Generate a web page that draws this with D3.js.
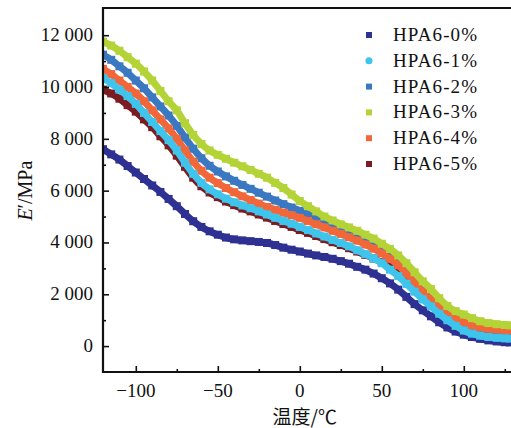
<!DOCTYPE html>
<html>
<head>
<meta charset="utf-8">
<script src="https://cdn.jsdelivr.net/npm/d3@7"></script>
<style>
  body { margin: 0; background: #fff; overflow: hidden; }
  svg { display: block; }
  text { font-family: "Liberation Serif", "Times New Roman", serif; fill: #111; }
</style>
</head>
<body>
<div id="chart"></div>
<script>
const temps = [-120, -115, -110, -105, -100, -95, -90, -85, -80, -75, -70, -65, -60, -55, -50, -45, -40, -35, -30, -25,
  -20, -15, -10, -5, 0, 5, 10, 15, 20, 25, 30, 35, 40, 45, 50, 55, 60, 65, 70, 75,
  80, 85, 90, 95, 100, 105, 110, 115, 120, 125, 128];

const hpa0 = [7600, 7400, 7200, 6950, 6700, 6450, 6200, 5950, 5680, 5400, 5100, 4820, 4600, 4430, 4300, 4190, 4120, 4080, 4050, 4020,
  3980, 3900, 3800, 3720, 3650, 3570, 3500, 3440, 3370, 3280, 3180, 3060, 2950, 2800, 2620, 2420, 2180, 1900, 1620, 1380,
  1150, 920, 720, 560, 440, 350, 280, 220, 180, 150, 140];
const hpa1 = [10350, 10150, 9900, 9650, 9350, 9000, 8650, 8300, 7950, 7550, 7080, 6650, 6300, 6050, 5860, 5690, 5550, 5430, 5320, 5200,
  5080, 4950, 4830, 4720, 4600, 4480, 4350, 4230, 4100, 3980, 3850, 3700, 3550, 3380, 3200, 2950, 2700, 2400, 2100, 1800,
  1530, 1250, 1000, 780, 600, 480, 400, 350, 320, 300, 290];
const hpa2 = [11250, 11050, 10800, 10550, 10250, 9950, 9600, 9250, 8900, 8500, 8050, 7620, 7250, 6960, 6740, 6550, 6380, 6220, 6070, 5920,
  5770, 5620, 5480, 5350, 5220, 5080, 4940, 4800, 4670, 4540, 4400, 4250, 4080, 3900, 3690, 3450, 3180, 2850, 2480, 2120,
  1800, 1500, 1240, 1030, 880, 760, 690, 650, 620, 600, 590];
const hpa3 = [11750, 11600, 11400, 11150, 10900, 10600, 10250, 9850, 9450, 9100, 8600, 8150, 7800, 7550, 7380, 7230, 7080, 6940, 6800, 6650,
  6500, 6300, 6100, 5850, 5600, 5400, 5200, 5000, 4850, 4700, 4580, 4450, 4300, 4150, 3950, 3750, 3500, 3200, 2850, 2500,
  2200, 1850, 1550, 1350, 1220, 1080, 960, 890, 845, 815, 800];
const hpa4 = [10700, 10500, 10250, 10000, 9750, 9450, 9100, 8750, 8400, 8000, 7550, 7120, 6770, 6500, 6290, 6100, 5940, 5780, 5640, 5500,
  5370, 5260, 5150, 5050, 4950, 4830, 4700, 4580, 4450, 4330, 4200, 4070, 3920, 3760, 3580, 3370, 3120, 2800, 2450, 2100,
  1800, 1520, 1270, 1060, 920, 800, 720, 670, 640, 620, 610];
const hpa5 = [9900, 9750, 9550, 9300, 9050, 8750, 8450, 8100, 7750, 7350, 6920, 6500, 6170, 5930, 5750, 5580, 5440, 5310, 5200, 5080,
  4960, 4830, 4710, 4600, 4480, 4370, 4250, 4130, 4010, 3900, 3780, 3650, 3520, 3380, 3230, 3050, 2820, 2550, 2250, 1950,
  1700, 1450, 1220, 1020, 870, 760, 690, 640, 610, 600, 590];

const seriesNames = ["HPA6-0%", "HPA6-1%", "HPA6-2%", "HPA6-3%", "HPA6-4%", "HPA6-5%"];
const seriesValues = [hpa0, hpa1, hpa2, hpa3, hpa4, hpa5];
const seriesColors = ["#2e3192", "#3fc4ec", "#3a78c2", "#b4d336", "#f2673a", "#7b1c22"];
const drawOrder = [0, 5, 2, 4, 1, 3];

const yTicks = [0, 2000, 4000, 6000, 8000, 10000, 12000];
const yMinor = [1000, 3000, 5000, 7000, 9000, 11000];
const xTicks = [-100, -50, 0, 50, 100];
const xMinor = [-75, -25, 25, 75, 125];

const width = 511;
const height = 428;
const margin = { top: 8, right: -2, bottom: 56, left: 103 };
const innerWidth = width - margin.left - margin.right;
const innerHeight = height - margin.top - margin.bottom;

const svg = d3.select("#chart").append("svg")
  .attr("width", width)
  .attr("height", height);

const g = svg.append("g")
  .attr("transform", `translate(${margin.left}, ${margin.top})`);

const xScale = d3.scaleLinear().domain([-120, 130]).range([0, innerWidth]);
const yScale = d3.scaleLinear().domain([-1000, 13050]).range([innerHeight, 0]);

g.append("clipPath").attr("id", "plot")
  .append("rect")
  .attr("x", 1).attr("y", 0)
  .attr("width", innerWidth).attr("height", innerHeight - 1);

const marks = g.append("g").attr("clip-path", "url(#plot)");

const line = d3.line()
  .x(d => xScale(d[0]))
  .y(d => yScale(d[1]))
  .curve(d3.curveMonotoneX);

drawOrder.forEach(i => {
  const pts = temps.map((t, j) => [t, seriesValues[i][j]]);
  const s = marks.append("g");
  s.append("path")
    .datum(pts)
    .attr("fill", "none")
    .attr("stroke", seriesColors[i])
    .attr("stroke-width", 7)
    .attr("d", line);
  s.selectAll("rect")
    .data(pts)
    .join("rect")
    .attr("x", d => xScale(d[0]) - 4)
    .attr("y", d => yScale(d[1]) - 4)
    .attr("width", 8)
    .attr("height", 8)
    .attr("fill", seriesColors[i]);
});

// tick marks, pointing inward (axes drawn without their own labels)
const yMajorG = g.append("g").call(d3.axisLeft(yScale).tickValues(yTicks).tickSize(-6).tickFormat(""));
const yMinorG = g.append("g").call(d3.axisLeft(yScale).tickValues(yMinor).tickSize(-3).tickFormat(""));
const xMajorG = g.append("g").attr("transform", `translate(0, ${innerHeight})`)
  .call(d3.axisBottom(xScale).tickValues(xTicks).tickSize(-6).tickFormat(""));
const xMinorG = g.append("g").attr("transform", `translate(0, ${innerHeight})`)
  .call(d3.axisBottom(xScale).tickValues(xMinor).tickSize(-3).tickFormat(""));
[yMajorG, yMinorG, xMajorG, xMinorG].forEach(a => {
  a.select(".domain").remove();
  a.selectAll("text").remove();
  a.selectAll("line").attr("stroke", "#111").attr("stroke-width", 1.6);
});

// tick labels
g.append("g").selectAll("text")
  .data(yTicks)
  .join("text")
  .attr("x", -10)
  .attr("y", d => yScale(d) + 6)
  .attr("text-anchor", "end")
  .attr("font-size", 19)
  .text(d => d3.format(",")(d).replace(",", " "));

g.append("g").selectAll("text")
  .data(xTicks)
  .join("text")
  .attr("x", d => xScale(d))
  .attr("y", innerHeight + 25)
  .attr("text-anchor", "middle")
  .attr("font-size", 19)
  .text(d => d < 0 ? "\u2212" + Math.abs(d) : d);

// frame: left, bottom, top
g.append("path")
  .attr("d", `M${innerWidth + 2},0H0V${innerHeight}H${innerWidth + 2}`)
  .attr("fill", "none")
  .attr("stroke", "#111")
  .attr("stroke-width", 2.2);

// axis titles
g.append("text")
  .attr("x", xScale(3))
  .attr("y", innerHeight + 52)
  .attr("text-anchor", "middle")
  .attr("font-size", 19)
  .style("font-family", "'Noto Sans CJK SC', sans-serif")
  .text("温度/℃");

const yTitle = g.append("text")
  .attr("transform", `translate(${-71}, ${yScale(6000)}) rotate(-90)`)
  .attr("text-anchor", "middle")
  .attr("font-size", 20);
yTitle.append("tspan").attr("font-style", "italic").text("E");
yTitle.append("tspan").text("′/MPa");

// legend
const legend = g.append("g").attr("transform", `translate(${369 - margin.left}, ${35 - margin.top})`);
seriesNames.forEach((name, i) => {
  const row = legend.append("g").attr("transform", `translate(0, ${i * 25.8})`);
  if (i === 1) {
    row.append("path")
      .attr("d", d3.symbol().type(d3.symbolCircle).size(40))
      .attr("fill", seriesColors[i]);
  } else {
    row.append("rect")
      .attr("x", -3).attr("y", -3)
      .attr("width", 6).attr("height", 6)
      .attr("fill", seriesColors[i]);
  }
  row.append("text")
    .attr("x", 24)
    .attr("y", 6)
    .attr("font-size", 19)
    .attr("letter-spacing", 1.1)
    .text(name);
});
</script>
</body>
</html>
